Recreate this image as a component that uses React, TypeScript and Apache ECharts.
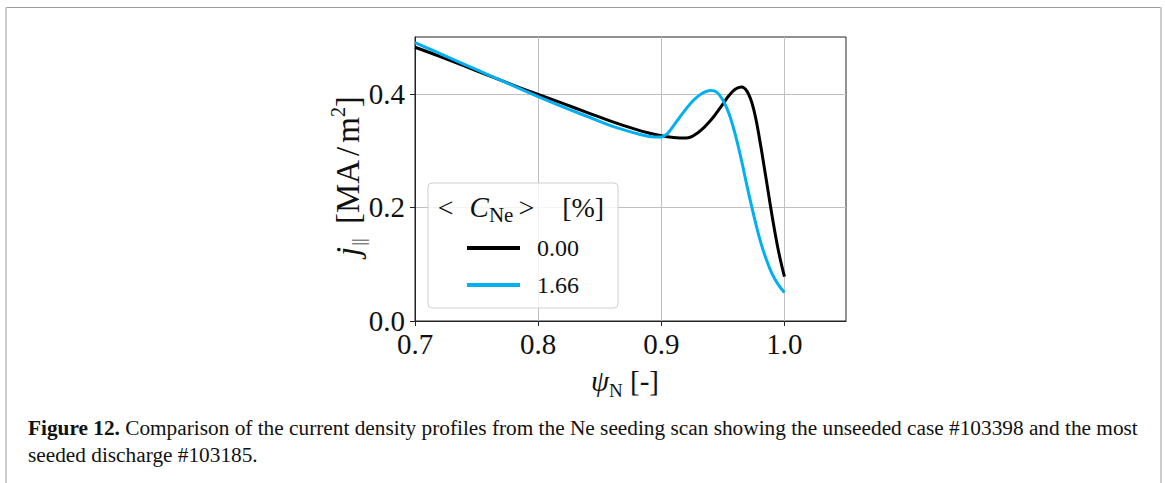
import React, { useEffect, useRef } from "react";
import * as echarts from "echarts";

// Current density profiles j_|| versus normalised poloidal flux psi_N
const psiUnseeded = [0.70, 0.72, 0.74, 0.76, 0.78, 0.80, 0.82, 0.84, 0.86, 0.88, 0.89, 0.90, 0.91, 0.92, 0.93, 0.94, 0.95, 0.955, 0.96, 0.965, 0.97, 0.975, 0.98, 0.985, 0.99, 0.995, 1.00];
const jUnseeded = [0.482, 0.466, 0.449, 0.432, 0.415, 0.399, 0.383, 0.367, 0.351, 0.337, 0.331, 0.326, 0.323, 0.322, 0.332, 0.353, 0.382, 0.397, 0.408, 0.412, 0.403, 0.373, 0.318, 0.252, 0.185, 0.125, 0.078];

const psiSeeded = [0.70, 0.72, 0.74, 0.76, 0.78, 0.80, 0.82, 0.84, 0.86, 0.88, 0.89, 0.90, 0.905, 0.91, 0.915, 0.92, 0.925, 0.93, 0.935, 0.94, 0.945, 0.95, 0.955, 0.96, 0.965, 0.97, 0.975, 0.98, 0.985, 0.99, 0.995, 1.00];
const jSeeded = [0.490, 0.471, 0.452, 0.433, 0.414, 0.395, 0.377, 0.360, 0.343, 0.330, 0.325, 0.324, 0.330, 0.344, 0.359, 0.373, 0.386, 0.396, 0.403, 0.406, 0.403, 0.389, 0.365, 0.329, 0.284, 0.234, 0.187, 0.144, 0.110, 0.083, 0.064, 0.050];

const seriesNames = ["0.00", "1.66"];
const seriesColors = ["#000000", "#00b0f0"];

const xTicks = [0.7, 0.8, 0.9, 1.0];
const yTicks = [0.0, 0.2, 0.4];

const captionLine1 =
  " Comparison of the current density profiles from the Ne seeding scan showing the unseeded case #103398 and the most";
const captionLine2 = "seeded discharge #103185.";

const SERIF = "'Liberation Serif', 'Times New Roman', serif";

const pairs = (xs: number[], ys: number[]) => xs.map((x, i) => [x, ys[i]]);

export default function App() {
  const ref = useRef<HTMLDivElement>(null);

  useEffect(() => {
    if (!ref.current) return;
    const chart = echarts.init(ref.current, null, { renderer: "svg" });

    const tickLabelStyle = {
      fontFamily: SERIF,
      fontSize: 29,
      color: "#111",
    };

    chart.setOption({
      animation: false,
      backgroundColor: "#ffffff",
      grid: {
        left: 415,
        top: 37,
        width: 431,
        height: 284,
        show: true,
        borderColor: "#222",
        borderWidth: 1,
        backgroundColor: "transparent",
        containLabel: false,
      },
      xAxis: {
        type: "value",
        min: 0.7,
        max: 1.05,
        interval: 0.1,
        axisLine: { show: true, lineStyle: { color: "#222", width: 1 } },
        axisTick: {
          show: true,
          inside: false,
          length: 5,
          customValues: xTicks,
          lineStyle: { color: "#222", width: 1 },
        },
        axisLabel: {
          ...tickLabelStyle,
          margin: 8,
          customValues: xTicks,
          formatter: (v: number) => v.toFixed(1),
        },
        splitLine: { show: true, lineStyle: { color: "#c0c0c0", width: 1 } },
      },
      yAxis: {
        type: "value",
        min: 0,
        max: 0.5,
        interval: 0.2,
        axisLine: { show: true, lineStyle: { color: "#222", width: 1 } },
        axisTick: {
          show: true,
          inside: false,
          length: 5,
          customValues: yTicks,
          lineStyle: { color: "#222", width: 1 },
        },
        axisLabel: {
          ...tickLabelStyle,
          margin: 10,
          customValues: yTicks,
          formatter: (v: number) => v.toFixed(1),
        },
        splitLine: { show: true, lineStyle: { color: "#c0c0c0", width: 1 } },
      },
      legend: {
        orient: "vertical",
        left: 467,
        top: 236,
        z: 6,
        itemWidth: 53,
        itemHeight: 4,
        itemGap: 13,
        icon: "rect",
        padding: 0,
        data: seriesNames,
        textStyle: {
          fontFamily: SERIF,
          fontSize: 24,
          lineHeight: 24,
          color: "#111",
          padding: [0, 0, 0, 12],
        },
      },
      series: [
        {
          name: seriesNames[0],
          type: "line",
          data: pairs(psiUnseeded, jUnseeded),
          smooth: 0.4,
          showSymbol: false,
          symbol: "none",
          z: 2,
          lineStyle: { color: seriesColors[0], width: 3 },
          itemStyle: { color: seriesColors[0] },
        },
        {
          name: seriesNames[1],
          type: "line",
          data: pairs(psiSeeded, jSeeded),
          smooth: 0.4,
          showSymbol: false,
          symbol: "none",
          z: 3,
          lineStyle: { color: seriesColors[1], width: 3 },
          itemStyle: { color: seriesColors[1] },
        },
      ],
      graphic: [
        // page frame
        { type: "line", z: 1, shape: { x1: 5, y1: 7.5, x2: 1162, y2: 7.5 }, style: { stroke: "#9a9a9a", lineWidth: 1 } },
        { type: "line", z: 1, shape: { x1: 6, y1: 7, x2: 6, y2: 483 }, style: { stroke: "#cccccc", lineWidth: 2 } },
        { type: "line", z: 1, shape: { x1: 1161, y1: 7, x2: 1161, y2: 483 }, style: { stroke: "#cccccc", lineWidth: 2 } },
        // legend frame
        {
          type: "rect",
          z: 5,
          shape: { x: 428, y: 183, width: 190, height: 125, r: 4 },
          style: { fill: "rgba(255,255,255,0.8)", stroke: "#cfcfcf", lineWidth: 1 },
        },
        // legend title
        {
          type: "text",
          z: 7,
          x: 521,
          y: 207,
          style: {
            text: "{lt|<}{c|C}{s|Ne}{gt|>}{r|[%]}",
            textAlign: "center",
            textVerticalAlign: "middle",
            fill: "#111",
            rich: {
              lt: { fontFamily: SERIF, fontSize: 28, lineHeight: 36, verticalAlign: "middle", padding: [0, 16, 0, 0], fill: "#111" },
              c: { fontFamily: SERIF, fontSize: 29, fontStyle: "italic", lineHeight: 36, verticalAlign: "middle", fill: "#111" },
              s: { fontFamily: SERIF, fontSize: 21, lineHeight: 21, verticalAlign: "bottom", padding: [0, 5, 0, 0], fill: "#111" },
              gt: { fontFamily: SERIF, fontSize: 28, lineHeight: 36, verticalAlign: "middle", padding: [0, 28, 0, 0], fill: "#111" },
              r: { fontFamily: SERIF, fontSize: 28, lineHeight: 36, verticalAlign: "middle", fill: "#111" },
            },
          },
        },
        // y axis title
        {
          type: "text",
          z: 7,
          x: 348,
          y: 176,
          rotation: Math.PI / 2,
          style: {
            text: "{j|j}{s|||}{o|[MA}{sl|/}{o|m}{p|2}{o|]}",
            textAlign: "center",
            textVerticalAlign: "middle",
            fill: "#111",
            rich: {
              j: { fontFamily: SERIF, fontSize: 33, fontStyle: "italic", lineHeight: 40, verticalAlign: "middle", fill: "#111" },
              o: { fontFamily: SERIF, fontSize: 33, lineHeight: 40, verticalAlign: "middle", fill: "#111" },
              sl: { fontFamily: SERIF, fontSize: 33, lineHeight: 40, verticalAlign: "middle", padding: [0, 4, 0, 4], fill: "#111" },
              s: { fontFamily: SERIF, fontSize: 19, lineHeight: 19, verticalAlign: "bottom", padding: [0, 14, 0, 1], fill: "#111" },
              p: { fontFamily: SERIF, fontSize: 20, lineHeight: 20, verticalAlign: "top", fill: "#111" },
            },
          },
        },
        // x axis title
        {
          type: "text",
          z: 7,
          x: 625,
          y: 381,
          style: {
            text: "{i|ψ}{s|N}{o| [-]}",
            textAlign: "center",
            textVerticalAlign: "middle",
            fill: "#111",
            rich: {
              i: { fontFamily: SERIF, fontSize: 29, fontStyle: "italic", lineHeight: 38, verticalAlign: "middle", fill: "#111" },
              o: { fontFamily: SERIF, fontSize: 29, lineHeight: 38, verticalAlign: "middle", fill: "#111" },
              s: { fontFamily: SERIF, fontSize: 19, lineHeight: 19, verticalAlign: "bottom", fill: "#111" },
            },
          },
        },
        // caption
        {
          type: "text",
          z: 7,
          x: 28,
          y: 414,
          style: {
            text: "{b|Figure 12.}{r|" + captionLine1 + "}\n{r|" + captionLine2 + "}",
            textAlign: "left",
            textVerticalAlign: "top",
            fill: "#111",
            rich: {
              b: { fontFamily: SERIF, fontSize: 21.3, fontWeight: "bold", lineHeight: 27, fill: "#111" },
              r: { fontFamily: SERIF, fontSize: 21.3, lineHeight: 27, fill: "#111" },
            },
          },
        },
      ],
    });

    return () => chart.dispose();
  }, []);

  return (
    <div
      ref={ref}
      style={{ position: "fixed", left: 0, top: 0, width: 1165, height: 483, background: "#fff" }}
    />
  );
}
